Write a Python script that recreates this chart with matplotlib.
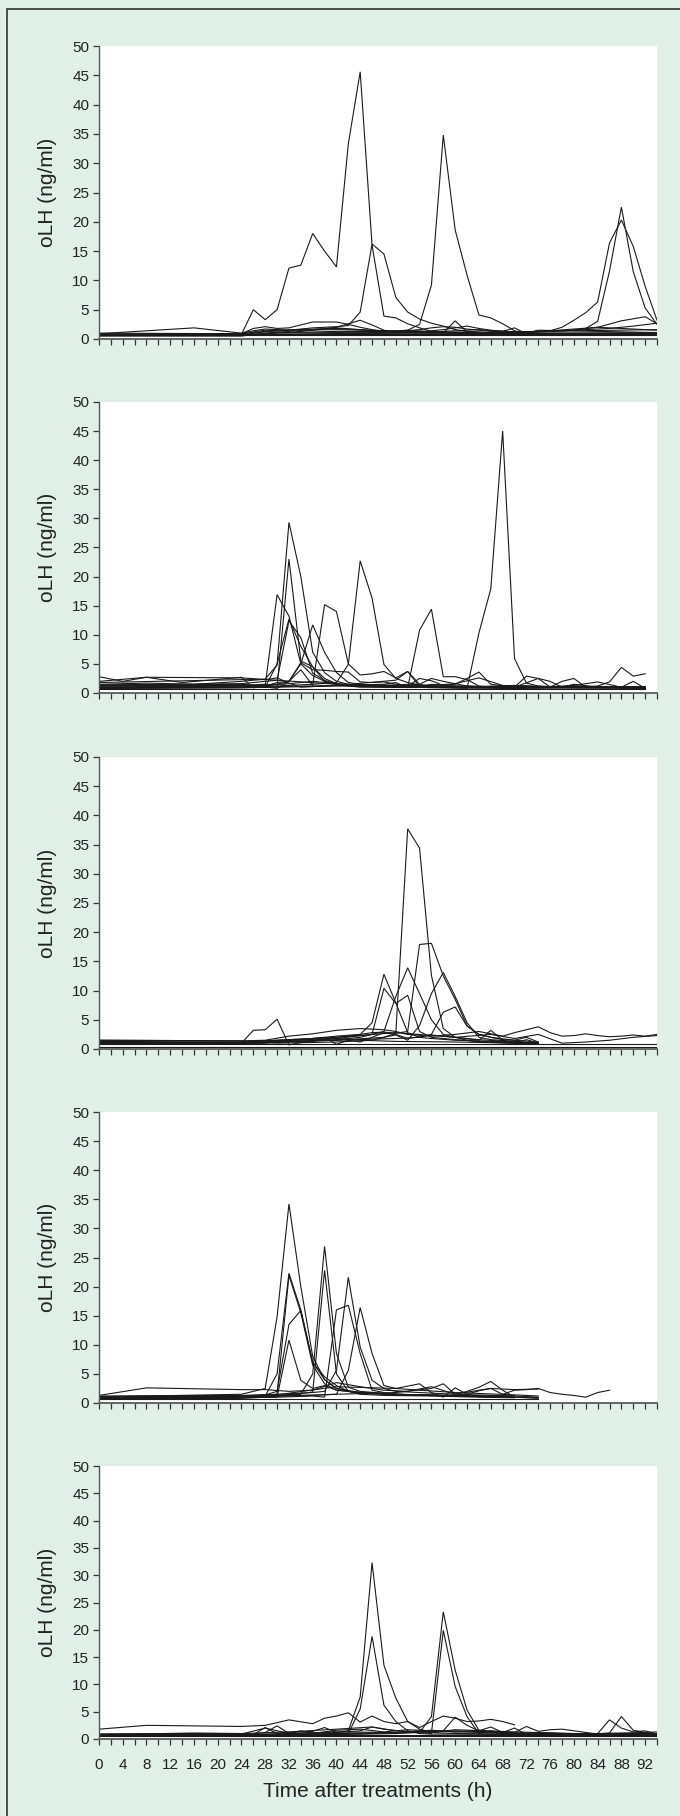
import matplotlib
matplotlib.use("Agg")
import matplotlib.pyplot as plt
from matplotlib.patches import Rectangle

plt.rcParams['font.family'] = ['Liberation Sans', 'DejaVu Sans']

# hours after treatment, ng/ml -- one (times, values) pair per animal
p1_lines = [
    ([0, 24, 26, 28, 30, 32, 34, 36, 38, 40, 42, 44, 46, 48, 50, 52, 54, 56, 60, 70, 80, 94],
     [0.8, 0.8, 5.0, 3.3, 5.0, 12.1, 12.6, 18.0, 15.0, 12.3, 33.3, 45.6, 16.0, 3.9, 3.6, 2.6, 1.9, 1.3, 1.0, 0.9, 0.9, 0.9]),
    ([0, 16, 24, 26, 28, 30, 32, 34, 36, 38, 40, 42, 44, 46, 48, 50, 52, 54, 56, 58, 60, 62, 64, 66, 94],
     [0.6, 0.9, 0.8, 1.2, 1.5, 1.4, 1.5, 1.7, 1.9, 2.0, 2.1, 2.3, 4.6, 16.2, 14.5, 7.1, 4.6, 3.4, 2.7, 2.2, 1.6, 1.3, 1.2, 1.0, 0.8]),
    ([0, 24, 40, 50, 52, 54, 56, 58, 60, 62, 64, 66, 68, 70, 72, 74, 94],
     [0.7, 0.6, 0.9, 1.2, 1.5, 2.5, 9.2, 34.8, 18.6, 10.9, 4.1, 3.6, 2.6, 1.4, 1.0, 1.5, 1.1]),
    ([0, 24, 30, 40, 50, 60, 70, 76, 78, 80, 82, 84, 86, 88, 90, 92, 94],
     [0.8, 0.7, 1.5, 1.8, 1.2, 1.1, 1.0, 1.4, 2.0, 3.2, 4.5, 6.3, 16.4, 20.3, 15.8, 9.0, 3.2]),
    ([0, 24, 28, 40, 60, 70, 80, 82, 84, 86, 88, 90, 92, 94],
     [0.6, 0.6, 1.0, 1.3, 1.2, 1.0, 1.5, 1.8, 3.0, 11.6, 22.5, 11.5, 5.3, 2.5]),
    ([0, 24, 26, 28, 30, 32, 34, 36, 38, 40, 42, 44, 46, 48, 50, 52, 54, 56, 58, 60, 62, 64, 66, 68, 70, 94],
     [0.8, 0.9, 1.8, 2.1, 1.8, 1.9, 2.4, 2.9, 2.9, 2.9, 2.5, 2.0, 1.6, 1.3, 1.2, 1.4, 1.6, 1.9, 2.1, 2.0, 1.7, 1.5, 1.3, 1.2, 1.0, 1.0]),
    ([0, 24, 28, 36, 40, 42, 44, 46, 48, 50, 60, 70, 80, 94],
     [0.5, 0.5, 1.0, 1.6, 2.0, 2.6, 3.2, 2.4, 1.5, 1.1, 1.0, 0.9, 0.9, 0.9]),
    ([0, 16, 24, 26, 28, 32, 40, 50, 56, 58, 60, 62, 66, 70, 76, 80, 84, 88, 92, 94],
     [0.9, 1.9, 1.0, 1.4, 1.7, 1.5, 1.6, 1.4, 1.3, 1.0, 3.1, 1.2, 1.0, 1.2, 1.3, 1.5, 2.0, 3.1, 3.8, 2.6]),
    ([0, 24, 30, 40, 50, 60, 70, 80, 86, 90, 94],
     [0.7, 0.6, 1.0, 1.1, 1.0, 1.1, 1.2, 1.5, 1.8, 2.2, 2.7]),
    ([0, 24, 32, 40, 48, 54, 58, 60, 62, 64, 66, 70, 80, 94],
     [0.6, 0.6, 0.8, 0.9, 1.0, 1.2, 1.6, 1.9, 2.2, 1.8, 1.5, 1.2, 1.4, 1.6]),
    ([0, 94], [0.6, 0.6]),
    ([0, 24, 28, 32, 36, 40, 44, 48, 52, 56, 60, 64, 68, 72, 76, 80, 84, 88, 92, 94],
     [1.0, 0.9, 1.3, 1.1, 1.5, 1.9, 1.6, 1.3, 1.5, 1.2, 1.4, 1.6, 1.3, 1.2, 1.4, 1.7, 2.0, 1.8, 1.6, 1.5]),
    ([0, 24, 40, 60, 66, 68, 70, 72, 74, 80, 94],
     [0.7, 0.7, 0.8, 0.9, 1.0, 1.3, 1.9, 0.9, 1.0, 1.0, 1.1]),
    ([0, 94], [0.8, 0.8]),
]

p2_lines = [
    ([0, 24, 30, 40, 50, 58, 60, 62, 64, 66, 68, 70, 72, 74, 76, 80, 84, 88, 92],
     [0.8, 0.9, 1.0, 1.2, 1.1, 1.0, 0.9, 0.8, 10.3, 17.9, 45.0, 5.9, 1.7, 1.2, 1.0, 1.0, 1.1, 1.0, 0.9]),
    ([0, 8, 16, 24, 28, 30, 32, 34, 36, 38, 40, 42, 44, 46, 50, 60, 70, 80, 92],
     [1.5, 1.7, 1.5, 2.0, 2.4, 4.8, 29.3, 20.0, 7.0, 3.5, 2.0, 1.5, 1.3, 1.2, 1.0, 0.9, 0.8, 1.0, 0.9]),
    ([0, 24, 28, 30, 32, 34, 36, 38, 40, 44, 50, 60, 70, 80, 92],
     [1.2, 1.3, 1.5, 1.0, 23.0, 5.5, 4.5, 2.0, 1.4, 1.2, 1.0, 0.9, 0.8, 0.9, 0.8]),
    ([0, 24, 28, 30, 32, 34, 36, 38, 40, 42, 44, 50, 60, 70, 80, 92],
     [0.9, 1.0, 1.3, 16.9, 13.2, 5.0, 3.0, 2.0, 1.5, 1.2, 1.0, 1.0, 1.1, 0.9, 1.0, 0.9]),
    ([0, 24, 28, 30, 32, 34, 36, 38, 40, 42, 44, 46, 50, 60, 70, 80, 92],
     [1.0, 1.2, 1.0, 5.0, 12.7, 8.0, 4.5, 2.5, 1.6, 1.3, 1.2, 1.1, 1.0, 1.0, 1.1, 1.0, 1.0]),
    ([0, 24, 28, 30, 32, 34, 36, 38, 40, 42, 44, 50, 60, 70, 80, 92],
     [1.4, 1.6, 2.0, 2.2, 12.4, 9.5, 3.4, 2.2, 1.5, 1.3, 1.1, 1.0, 0.9, 1.0, 0.9, 0.8]),
    ([0, 24, 30, 32, 34, 36, 38, 40, 42, 44, 50, 60, 70, 80, 92],
     [1.3, 1.5, 0.8, 2.0, 5.0, 11.7, 7.0, 3.5, 1.8, 1.5, 1.2, 1.0, 1.3, 1.0, 1.1]),
    ([0, 24, 30, 32, 34, 36, 38, 40, 42, 44, 46, 48, 50, 52, 54, 56, 60, 70, 80, 92],
     [1.0, 1.2, 1.5, 2.0, 4.0, 1.3, 15.2, 14.0, 5.0, 3.1, 3.3, 3.7, 2.6, 3.7, 1.1, 1.5, 1.2, 1.0, 1.2, 1.0]),
    ([0, 24, 30, 36, 40, 42, 44, 46, 48, 50, 52, 54, 56, 60, 70, 80, 92],
     [0.9, 1.0, 1.2, 1.5, 1.8, 4.9, 22.7, 16.3, 4.9, 2.5, 1.8, 1.4, 1.2, 1.0, 1.1, 0.9, 1.0]),
    ([0, 24, 30, 40, 48, 50, 52, 54, 56, 58, 60, 62, 64, 66, 68, 70, 72, 74, 80, 92],
     [0.8, 0.9, 1.1, 1.3, 1.5, 1.8, 0.9, 10.8, 14.4, 2.8, 2.8, 2.3, 1.2, 1.0, 0.8, 1.0, 1.2, 1.0, 1.1, 0.9]),
    ([0, 4, 8, 14, 24, 26, 28, 30, 32, 34, 36, 38, 40, 42, 44, 46, 48, 50, 52, 54, 56, 58, 60, 62, 64, 66, 70, 74, 76, 78, 80, 84, 88, 92],
     [2.8, 2.0, 2.7, 1.8, 2.7, 0.9, 1.2, 1.8, 2.0, 5.2, 4.0, 3.9, 3.7, 3.6, 1.9, 1.8, 1.9, 1.5, 1.2, 2.5, 2.1, 1.3, 1.5, 2.5, 3.6, 1.5, 1.0, 2.5, 2.0, 1.0, 1.5, 1.0, 1.0, 0.8]),
    ([0, 8, 24, 40, 60, 70, 72, 74, 76, 78, 80, 82, 84, 86, 88, 90, 92],
     [2.0, 2.7, 2.6, 1.5, 1.2, 1.0, 2.9, 2.5, 1.0, 2.0, 2.5, 1.0, 1.2, 1.9, 4.4, 2.9, 3.3]),
    ([0, 24, 28, 32, 36, 40, 44, 48, 52, 56, 60, 64, 68, 72, 76, 80, 84, 88, 90, 92],
     [1.2, 1.4, 1.3, 1.6, 2.0, 1.6, 1.3, 1.2, 1.5, 1.3, 1.6, 2.6, 1.3, 1.1, 1.0, 1.3, 1.9, 1.0, 2.0, 0.8]),
    ([0, 24, 28, 30, 32, 34, 40, 50, 52, 54, 56, 58, 60, 62, 66, 70, 80, 92],
     [1.8, 2.3, 2.3, 2.6, 1.7, 1.0, 1.3, 2.2, 3.7, 1.5, 2.5, 2.0, 1.6, 1.2, 1.0, 0.9, 0.9, 0.9]),
    ([0, 92], [0.7, 0.7]),
]

p3_lines = [
    ([0, 8, 16, 24, 30, 36, 40, 44, 46, 48, 50, 52, 54, 56, 58, 60, 62, 64, 70, 74],
     [1.0, 1.2, 0.9, 1.0, 1.3, 1.8, 2.2, 2.5, 2.8, 2.9, 2.7, 37.7, 34.4, 12.6, 3.5, 2.0, 1.5, 1.2, 1.0, 0.8]),
    ([0, 24, 30, 40, 46, 48, 50, 52, 54, 56, 58, 60, 62, 64, 66, 70, 74],
     [1.5, 1.4, 1.0, 1.2, 1.5, 2.0, 2.7, 3.0, 17.9, 18.1, 12.5, 8.5, 4.0, 2.5, 2.0, 1.5, 1.2]),
    ([0, 24, 30, 40, 48, 50, 52, 54, 56, 58, 60, 62, 64, 66, 70, 74],
     [0.8, 0.9, 1.1, 1.5, 2.0, 2.4, 1.5, 4.0, 9.5, 13.1, 9.0, 4.5, 2.0, 1.6, 1.3, 1.0]),
    ([0, 24, 30, 40, 46, 48, 50, 52, 54, 56, 58, 60, 64, 70, 74],
     [1.2, 1.0, 1.4, 1.8, 2.5, 3.0, 9.0, 13.9, 9.5, 5.0, 2.5, 2.0, 1.6, 1.2, 1.0]),
    ([0, 24, 30, 40, 44, 46, 48, 50, 52, 54, 56, 60, 66, 70, 74],
     [1.1, 1.2, 1.5, 2.0, 2.5, 4.5, 12.8, 7.9, 2.8, 2.0, 1.8, 1.5, 1.3, 1.2, 1.0]),
    ([0, 24, 30, 40, 44, 46, 48, 50, 52, 54, 56, 60, 66, 70, 74],
     [0.9, 1.0, 1.2, 1.6, 2.0, 2.5, 10.4, 7.8, 9.2, 3.0, 2.0, 1.6, 1.2, 1.0, 0.9]),
    ([0, 24, 30, 40, 50, 54, 56, 58, 60, 62, 64, 66, 68, 70, 72, 74],
     [1.0, 1.1, 1.3, 1.5, 1.8, 2.0, 2.5, 6.3, 7.2, 3.9, 2.5, 2.0, 1.6, 1.5, 2.0, 1.2]),
    ([0, 24, 26, 28, 30, 32, 36, 40, 44, 50, 60, 70, 74],
     [1.0, 1.0, 3.2, 3.3, 5.1, 0.7, 1.5, 1.8, 1.5, 1.3, 1.2, 1.0, 0.9]),
    ([0, 24, 28, 32, 36, 40, 44, 48, 50, 52, 56, 60, 64, 68, 70, 72, 74, 76, 78, 80, 82, 84, 86, 88, 90, 92, 94],
     [1.5, 1.4, 1.5, 2.2, 2.6, 3.2, 3.5, 3.3, 3.0, 2.5, 2.2, 2.5, 3.0, 2.2, 2.8, 3.3, 3.8, 2.8, 2.2, 2.3, 2.6, 2.3, 2.1, 2.2, 2.4, 2.2, 2.5]),
    ([0, 24, 40, 50, 60, 66, 70, 74, 78, 82, 86, 90, 94],
     [1.3, 1.2, 2.0, 2.8, 2.0, 2.5, 1.8, 2.5, 1.0, 1.2, 1.5, 2.0, 2.3]),
    ([0, 94], [0.8, 0.8]),
    ([0, 94], [0.3, 0.3]),
    ([0, 24, 28, 32, 36, 38, 40, 42, 44, 46, 48, 50, 52, 56, 60, 64, 66, 68, 70, 72, 74],
     [0.8, 0.9, 1.0, 1.5, 1.2, 2.0, 0.8, 1.5, 1.2, 2.0, 2.8, 2.5, 1.8, 2.4, 2.0, 1.5, 3.2, 1.5, 1.0, 1.6, 1.0]),
]

p4_lines = [
    ([0, 8, 24, 28, 30, 32, 34, 36, 38, 40, 42, 44, 46, 50, 60, 70, 74],
     [1.0, 1.2, 1.5, 2.5, 14.8, 34.2, 20.0, 8.0, 4.0, 2.5, 2.0, 1.8, 1.6, 1.5, 1.3, 1.2, 1.0]),
    ([0, 24, 28, 30, 32, 34, 36, 38, 40, 42, 44, 48, 56, 64, 70],
     [0.8, 0.9, 1.2, 5.0, 22.3, 16.0, 7.0, 4.5, 3.0, 2.0, 1.5, 1.3, 1.2, 1.0, 0.9]),
    ([0, 24, 28, 30, 32, 34, 36, 38, 40, 44, 50, 60, 70, 74],
     [0.9, 1.0, 1.3, 1.5, 21.9, 15.5, 6.5, 3.3, 2.2, 1.8, 1.5, 1.3, 1.0, 0.9]),
    ([0, 24, 28, 30, 32, 34, 36, 38, 40, 44, 50, 60, 70],
     [1.1, 1.2, 1.4, 2.0, 13.5, 15.9, 7.0, 4.0, 2.5, 1.8, 1.5, 1.2, 1.0]),
    ([0, 24, 28, 30, 32, 34, 36, 38, 40, 44, 50, 60, 70],
     [0.7, 0.8, 1.0, 1.0, 10.8, 3.9, 2.5, 3.0, 2.2, 1.8, 1.4, 1.2, 1.0]),
    ([0, 24, 30, 34, 36, 38, 40, 42, 44, 50, 60, 70, 74],
     [0.9, 1.0, 1.2, 1.5, 5.0, 26.9, 8.5, 2.7, 2.0, 1.5, 1.2, 1.0, 0.8]),
    ([0, 24, 30, 34, 36, 38, 40, 42, 44, 50, 60, 70],
     [1.0, 1.1, 1.3, 1.6, 1.9, 22.8, 5.0, 2.0, 1.7, 1.4, 1.2, 1.0]),
    ([0, 24, 30, 36, 38, 40, 42, 44, 46, 48, 50, 60, 70],
     [0.8, 0.9, 1.0, 1.2, 1.0, 16.0, 16.8, 8.5, 2.2, 1.8, 1.5, 1.2, 1.0]),
    ([0, 24, 30, 36, 38, 40, 42, 44, 46, 48, 50, 60, 70],
     [1.2, 1.3, 1.5, 1.8, 2.0, 5.6, 21.6, 9.6, 3.9, 2.5, 2.0, 1.5, 1.2]),
    ([0, 24, 30, 36, 40, 42, 44, 46, 48, 50, 54, 60, 70, 74],
     [0.9, 1.0, 1.2, 1.3, 1.5, 5.6, 16.4, 8.5, 3.0, 2.5, 2.2, 1.8, 1.4, 1.2]),
    ([0, 8, 24, 28, 32, 36, 40, 44, 48, 52, 56, 60, 64, 66, 68, 70, 72, 74, 76, 78, 80, 82, 84, 86],
     [1.3, 2.6, 2.3, 2.3, 2.0, 2.2, 3.5, 2.8, 2.2, 2.0, 2.8, 1.5, 2.2, 2.5, 1.5, 2.2, 2.3, 2.5, 1.8, 1.5, 1.3, 1.0, 1.8, 2.2]),
    ([0, 24, 30, 40, 50, 56, 58, 60, 62, 64, 66, 68, 70],
     [0.9, 1.0, 1.2, 1.5, 1.8, 2.5, 3.3, 1.5, 2.0, 2.7, 3.7, 2.2, 1.0]),
    ([0, 74], [0.7, 0.7]),
    ([0, 24, 30, 40, 50, 54, 56, 58, 60, 62, 64, 66, 70, 74],
     [1.1, 1.2, 1.4, 2.8, 2.5, 3.3, 1.8, 1.0, 2.6, 1.5, 2.1, 2.5, 2.3, 2.4]),
]

p5_lines = [
    ([0, 24, 28, 32, 36, 40, 42, 44, 46, 48, 50, 52, 54, 56, 60, 70, 80, 94],
     [0.7, 0.7, 0.9, 1.0, 1.1, 1.2, 1.5, 7.7, 32.3, 13.5, 7.5, 3.2, 1.8, 1.2, 1.0, 0.9, 0.9, 0.8]),
    ([0, 24, 40, 42, 44, 46, 48, 50, 52, 54, 56, 60, 70, 80, 94],
     [0.6, 0.6, 0.8, 1.0, 5.5, 18.8, 6.2, 3.2, 1.5, 1.0, 0.9, 0.9, 0.8, 0.8, 0.8]),
    ([0, 24, 40, 50, 54, 56, 58, 60, 62, 64, 66, 70, 80, 94],
     [0.6, 0.6, 0.8, 1.0, 1.2, 4.1, 23.3, 12.6, 5.3, 1.6, 1.2, 1.0, 0.9, 0.9]),
    ([0, 24, 40, 50, 54, 56, 58, 60, 62, 64, 66, 70, 80, 94],
     [0.7, 0.8, 0.9, 1.1, 1.3, 1.0, 19.9, 9.6, 4.1, 1.0, 1.5, 1.1, 1.0, 1.0]),
    ([0, 8, 24, 28, 32, 36, 38, 40, 42, 44, 46, 48, 50, 52, 54, 56, 58, 60, 62, 64, 66, 68, 70],
     [1.8, 2.5, 2.3, 2.5, 3.5, 2.8, 3.8, 4.2, 4.8, 3.1, 4.2, 3.2, 2.8, 3.2, 2.1, 3.2, 4.2, 3.8, 3.2, 3.3, 3.6, 3.2, 2.6]),
    ([0, 24, 40, 50, 54, 56, 58, 60, 62, 64, 66, 68, 70, 72, 74, 76, 78, 80, 84, 86, 88, 90, 92, 94],
     [0.7, 0.8, 1.0, 1.2, 1.5, 1.2, 1.5, 4.0, 2.5, 1.5, 2.2, 1.2, 2.0, 0.8, 0.9, 1.0, 0.8, 0.8, 1.0, 3.5, 2.0, 1.3, 1.5, 0.9]),
    ([0, 24, 28, 32, 40, 50, 60, 66, 68, 70, 72, 74, 76, 78, 80, 84, 86, 88, 90, 92, 94],
     [0.8, 0.9, 2.0, 1.0, 1.3, 1.2, 1.5, 1.3, 1.0, 1.2, 2.3, 1.4, 1.7, 1.8, 1.5, 0.9, 1.1, 4.1, 1.6, 1.2, 0.8]),
    ([0, 24, 26, 28, 30, 32, 36, 38, 40, 44, 46, 48, 52, 56, 60, 64, 70, 80, 94],
     [0.9, 1.0, 0.8, 2.1, 1.0, 1.2, 1.4, 2.1, 1.2, 1.5, 2.2, 1.8, 1.3, 1.6, 1.3, 1.2, 1.0, 0.9, 1.0]),
    ([0, 24, 26, 28, 30, 32, 34, 36, 40, 44, 48, 52, 56, 60, 64, 68, 72, 76, 80, 84, 88, 92, 94],
     [0.9, 1.0, 0.9, 1.2, 2.4, 1.0, 1.5, 1.0, 1.6, 1.8, 1.3, 1.7, 1.5, 1.3, 1.6, 1.2, 1.0, 1.1, 0.9, 1.0, 1.1, 1.2, 1.3]),
    ([0, 94], [0.6, 0.6]),
    ([0, 16, 24, 32, 40, 46, 50, 56, 60, 70, 80, 94],
     [0.8, 1.1, 1.0, 1.3, 1.8, 2.2, 1.5, 1.2, 1.7, 1.3, 1.0, 1.0]),
    ([0, 94], [0.8, 0.8]),
]

panels = [p1_lines, p2_lines, p3_lines, p4_lines, p5_lines]

x_ticks = list(range(0, 95, 2))
x_labels = [str(t) if t % 4 == 0 else '' for t in x_ticks]
y_ticks = list(range(0, 51, 5))

W, H = 680, 1816
# axes boxes in pixels (top, bottom)
boxes = [(46, 339), (402, 693), (757, 1049), (1112, 1403), (1466, 1739)]
left_px, right_px = 99, 657

bg = '#e1f0e6'
fig = plt.figure(figsize=(W / 100, H / 100), dpi=100, facecolor=bg)

# outer frame, open at right and bottom edges
fig.patches.append(Rectangle((7 / W, -0.01), 1.0, 1 - 9 / H + 0.01,
                             transform=fig.transFigure, fill=False,
                             edgecolor='#333333', lw=1.2))

for i, (lines, (top, bot)) in enumerate(zip(panels, boxes)):
    ax = fig.add_axes([left_px / W, 1 - bot / H,
                       (right_px - left_px) / W, (bot - top) / H])
    ax.set_facecolor('white')
    for t, v in lines:
        ax.plot(t, v, color='#1a1a1a', lw=0.8, solid_joinstyle='miter')
    ax.set_xlim(0, 94)
    ax.set_ylim(0, 50)
    ax.set_yticks(y_ticks)
    ax.set_xticks(x_ticks)
    if i == len(panels) - 1:
        ax.set_xticklabels(x_labels)
        ax.set_xlabel('Time after treatments (h)', fontsize=15, color='#222222', labelpad=7)
    else:
        ax.set_xticklabels([])
    for side in ('top', 'right'):
        ax.spines[side].set_visible(False)
    ax.spines['left'].set_color('#555555')
    ax.spines['bottom'].set_color('#666666')
    ax.spines['left'].set_linewidth(1.0)
    ax.spines['bottom'].set_linewidth(1.4)
    ax.tick_params(axis='both', direction='out', length=4, width=0.9,
                   color='#333333', labelsize=11, labelcolor='#222222')
    ax.tick_params(axis='y', pad=3)
    ax.tick_params(axis='x', pad=10)
    ax.set_ylabel('oLH (ng/ml)', fontsize=15, color='#222222')
    ax.yaxis.set_label_coords(-0.075, 0.5)

fig.savefig('out.png', dpi=100, facecolor=bg)
